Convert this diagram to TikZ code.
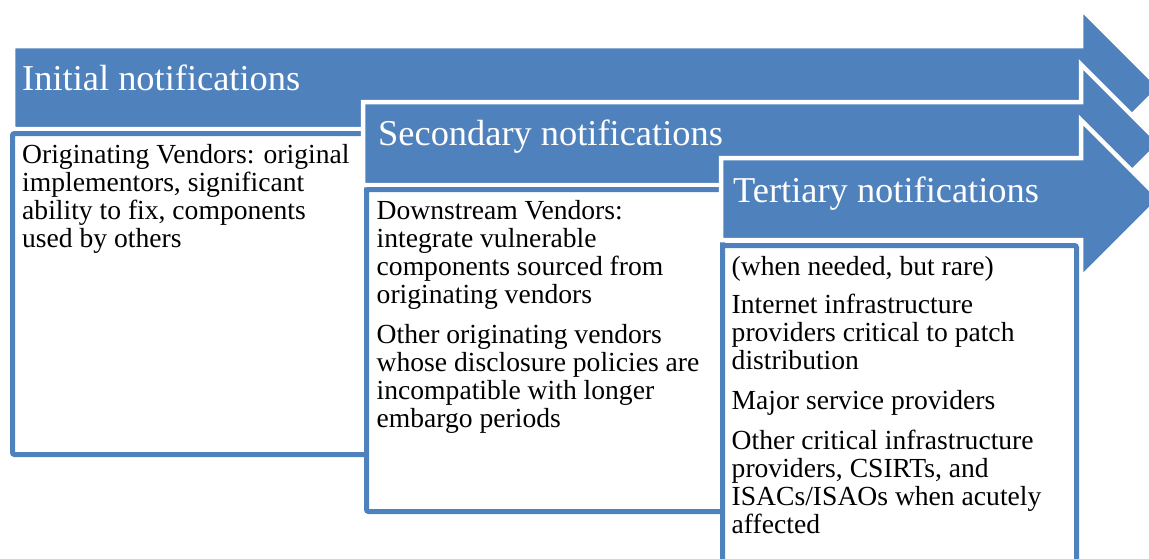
\documentclass[tikz,border=0pt]{standalone}
\usepackage{fontspec}
\setmainfont{Liberation Serif}
\usetikzlibrary{positioning}
\definecolor{officeblue}{HTML}{4F81BD}

\begin{document}
\begin{tikzpicture}[x=1pt, y=-1pt,
  band/.style={fill=officeblue, draw=white, line width=4.5pt, line join=miter},
  listbox/.style={rectangle, draw=officeblue, fill=white, line width=5pt,
    rounded corners=2pt, outer sep=0pt, inner sep=0pt, anchor=north west},
  title/.style={anchor=base west, inner sep=0pt, text=white,
    font=\fontsize{36.4}{40}\selectfont},
  item/.style={anchor=north west, inner sep=0pt, align=left,
    font=\fontsize{27.6}{28}\selectfont}
]
\useasboundingbox (0,0) rectangle (1149,558);
\begin{scope}
\clip (0,0) rectangle (1149,558);

% stage 1
\draw[band] (13,46) -- (1081,46) -- (1081,8.5) -- (1160,87.5)
  -- (1081,166.5) -- (1081,129) -- (13,129) -- cycle;
\node[title] (initial) at (22,90) {Initial notifications};
\node[listbox, minimum width=354pt, minimum height=321pt] (origbox) at (12.5,133.5) {};
\node[item, below right=10.5pt and 9.5pt of origbox.north west] (origtext)
  {Originating Vendors: original\\implementors, significant\\ability to fix, components\\used by others};

% stage 2
\draw[band] (363,102) -- (1081,102) -- (1081,64.5) -- (1160,143.5)
  -- (1081,222.5) -- (1081,185) -- (363,185) -- cycle;
\node[title] (secondary) at (378,145) {Secondary notifications};
\node[listbox, minimum width=356pt, minimum height=322pt] (downbox) at (366.5,189.5) {};
\node[item, below right=11pt and 10pt of downbox.north west] (downtext)
  {Downstream Vendors:\\integrate vulnerable\\components sourced from\\originating vendors\\[12pt]
   Other originating vendors\\whose disclosure policies are\\incompatible with longer\\embargo periods};

% stage 3
\draw[band] (721,158) -- (1081,158) -- (1081,120) -- (1160,199)
  -- (1081,278) -- (1081,240) -- (721,240) -- cycle;
\node[title] (tertiary) at (733,202) {Tertiary notifications};
\node[listbox, minimum width=354pt, minimum height=340pt] (tertbox) at (722.5,245.5) {};
\node[item, below right=11pt and 9pt of tertbox.north west] (terttext)
  {(when needed, but rare)\\[10pt]
   Internet infrastructure\\providers critical to patch\\distribution\\[12pt]
   Major service providers\\[12pt]
   Other critical infrastructure\\providers, CSIRTs, and\\ISACs/ISAOs when acutely\\affected};
\end{scope}
\end{tikzpicture}
\end{document}
